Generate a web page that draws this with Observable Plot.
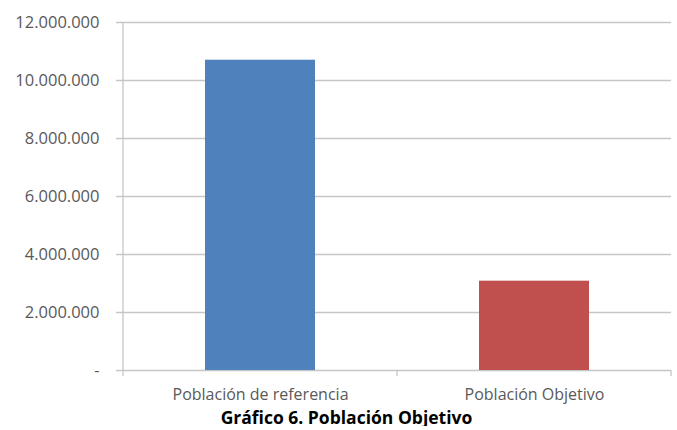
<!DOCTYPE html>
<html>
<head>
<meta charset="utf-8">
<script src="https://cdn.jsdelivr.net/npm/d3@7"></script>
<script src="https://cdn.jsdelivr.net/npm/@observablehq/plot@0.6"></script>
<style>
  html, body { margin: 0; padding: 0; background: #fff; }
  #chart { width: 677px; }
  .caption { font-family: "Open Sans", Lato, sans-serif; font-weight: bold; font-size: 17.5px; text-align: center; color: #000; line-height: 18px; margin-top: 2px; padding-left: 16px; }
</style>
</head>
<body>
<div id="chart"></div>
<script>
const categories = ["Población de referencia", "Población Objetivo"];
const values = [10700000, 3080000];
const colors = ["#4F81BD", "#C0504D"];
const yTicks = [0, 2000000, 4000000, 6000000, 8000000, 10000000, 12000000];
const captionText = "Gráfico 6. Población Objetivo";

const data = categories.map((c, i) => ({category: c, value: values[i], color: colors[i]}));
const locale = d3.formatLocale({decimal: ",", thousands: ".", grouping: [3], currency: ["", ""]});
const fmt = locale.format(",d");
const yFormat = d => d === 0 ? "-" : fmt(d);

const plot = Plot.plot({
  width: 677,
  height: 406,
  marginLeft: 122,
  marginRight: 6,
  marginTop: 22,
  marginBottom: 36,
  style: {fontFamily: "'Open Sans', Lato, sans-serif", fontSize: "16px", color: "#595959", background: "#fff"},
  x: {domain: categories, paddingInner: 0.6, paddingOuter: 0.3, label: null},
  y: {domain: [0, 12000000], label: null},
  marks: [
    Plot.ruleY(yTicks, {stroke: "#c6c6c6", strokeWidth: 1.3, insetLeft: -6}),
    Plot.barY(data, {x: "category", y: "value", fill: "color"}),
    Plot.axisY({ticks: yTicks, tickFormat: yFormat, tickSize: 0, tickPadding: 23, fill: "#595959", fontSize: 16.5}),
    Plot.axisX({tickSize: 0, tickPadding: 18, fill: "#595959", fontSize: 16})
  ]
});
document.getElementById("chart").appendChild(plot);

// Excel-style axis line and category boundary ticks, derived from the scales
const xs = plot.scale("x"), ys = plot.scale("y");
const svg = d3.select(plot);
const y0 = ys.apply(0), yTop = ys.apply(12000000);
const g = svg.append("g").attr("stroke", "#c6c6c6").attr("stroke-width", 1.3);
const stepStart = xs.apply(categories[0]) - (xs.step - xs.bandwidth) / 2;
g.append("line").attr("x1", stepStart).attr("x2", stepStart).attr("y1", yTop).attr("y2", y0 + 6);
categories.forEach((c, i) => {
  const bx = stepStart + xs.step * (i + 1);
  g.append("line").attr("x1", bx).attr("x2", bx).attr("y1", y0).attr("y2", y0 + 6);
});

const cap = document.createElement("div");
cap.className = "caption";
cap.textContent = captionText;
document.getElementById("chart").appendChild(cap);
</script>
</body>
</html>
